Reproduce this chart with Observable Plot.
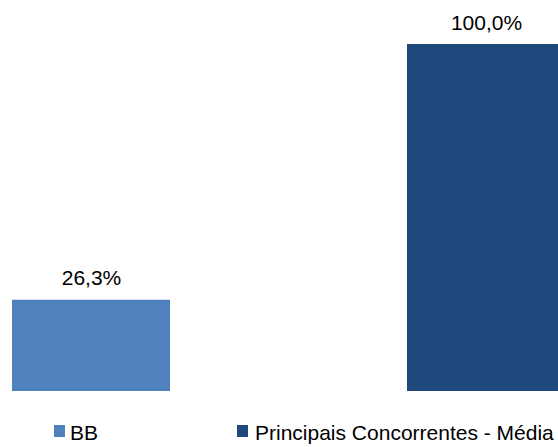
<!DOCTYPE html>
<html>
<head>
<meta charset="utf-8">
<script src="https://cdn.jsdelivr.net/npm/d3@7"></script>
<script src="https://cdn.jsdelivr.net/npm/@observablehq/plot@0.6"></script>
<style>
  html, body { margin: 0; padding: 0; background: #fff; overflow: hidden; }
  #wrap { width: 558px; height: 447px; position: relative; overflow: hidden; font-family: "Liberation Sans", Arial, sans-serif; }
  #chart svg { overflow: hidden; }
  #legend { position: relative; height: 42px; width: 558px; }
  .sw { position: absolute; width: 11px; height: 12px; top: 20px; }
  .lt { position: absolute; top: 17px; font-size: 21px; line-height: 1; color: #000; white-space: nowrap; }
</style>
</head>
<body>
<div id="wrap">
  <div id="chart"></div>
  <div id="legend"></div>
</div>
<script>
const categories = ["BB", "Principais Concorrentes - Média"];
const values = [26.3, 100.0];
const colors = ["#4F81BD", "#1F497D"];

const data = categories.map((c, i) => ({category: c, value: values[i]}));
const fmt = v => v.toFixed(1).replace(".", ",") + "%";

const plot = Plot.plot({
  width: 558,
  height: 405,
  marginTop: 44,
  marginBottom: 14,
  marginLeft: 0,
  marginRight: 0,
  style: {fontFamily: "'Liberation Sans', Arial, sans-serif", background: "#fff", overflow: "hidden"},
  x: {domain: categories, range: [12, 565], paddingInner: 0.6, paddingOuter: 0, axis: null},
  y: {domain: [0, 100], axis: null},
  color: {domain: categories, range: colors},
  marks: [
    Plot.barY(data, {x: "category", y: "value", fill: "category"}),
    Plot.text(data, {x: "category", y: "value", text: d => fmt(d.value), lineAnchor: "bottom", dy: -15, fontSize: 21, fill: "#000"})
  ]
});
document.getElementById("chart").appendChild(plot);

const legend = document.getElementById("legend");
const legendPos = [{sw: 54, tx: 70}, {sw: 237, tx: 255}];
categories.forEach((c, i) => {
  const s = document.createElement("div");
  s.className = "sw";
  s.style.left = legendPos[i].sw + "px";
  s.style.background = colors[i];
  legend.appendChild(s);
  const t = document.createElement("div");
  t.className = "lt";
  t.style.left = legendPos[i].tx + "px";
  t.textContent = c;
  legend.appendChild(t);
});
</script>
</body>
</html>
